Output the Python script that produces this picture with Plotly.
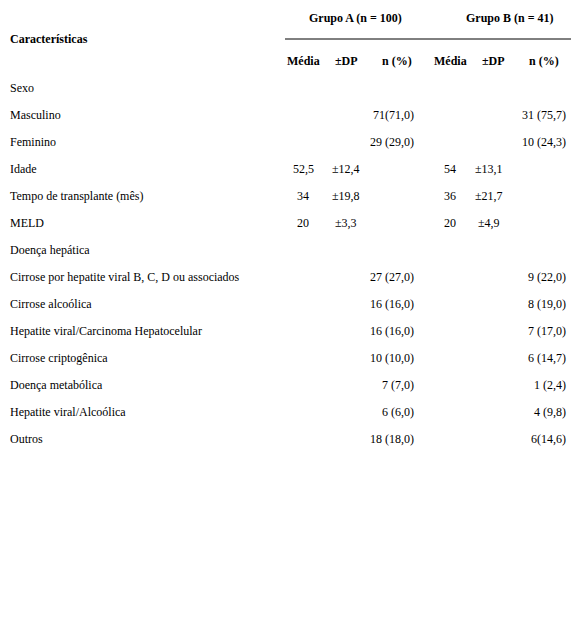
import plotly.graph_objects as go

rows = ["Sexo", "Masculino", "Feminino", "Idade", "Tempo de transplante (mês)", "MELD",
        "Doença hepática", "Cirrose por hepatite viral B, C, D ou associados",
        "Cirrose alcoólica", "Hepatite viral/Carcinoma Hepatocelular",
        "Cirrose criptogênica", "Doença metabólica", "Hepatite viral/Alcoólica", "Outros"]
a_media = ["", "", "", "52,5", "34", "20", "", "", "", "", "", "", "", ""]
a_dp = ["", "", "", "±12,4", "±19,8", "±3,3", "", "", "", "", "", "", "", ""]
a_n = ["", "71(71,0)", "29 (29,0)", "", "", "", "", "27 (27,0)", "16 (16,0)", "16 (16,0)",
       "10 (10,0)", "7 (7,0)", "6 (6,0)", "18 (18,0)"]
b_media = ["", "", "", "54", "36", "20", "", "", "", "", "", "", "", ""]
b_dp = ["", "", "", "±13,1", "±21,7", "±4,9", "", "", "", "", "", "", "", ""]
b_n = ["", "31 (75,7)", "10 (24,3)", "", "", "", "", "9 (22,0)", "8 (19,0)", "7 (17,0)",
       "6 (14,7)", "1 (2,4)", "4 (9,8)", "6(14,6)"]
groups = ["Grupo A (n = 100)", "Grupo B (n = 41)"]
subheads = ["Média", "±DP", "n (%)"]

FONT = "Liberation Serif"
fig = go.Figure()
anns = []

def txt(x, y, s, anchor="center", bold=False):
    anns.append(dict(x=x, y=y, xref="x", yref="y", text=f"<b>{s}</b>" if bold else s,
                     showarrow=False, xanchor=anchor, yanchor="middle",
                     font=dict(family=FONT, size=12, color="black")))

txt(8, 39, "Características", "left", True)
txt(355, 18, groups[0], bold=True)
txt(510, 18, groups[1], bold=True)
for xs in ([303, 346, 397], [450, 493, 544]):
    for x, s in zip(xs, subheads):
        txt(x, 61, s, bold=True)

for i, r in enumerate(rows):
    y = 88 + 27 * i
    txt(8, y, r, "left")
    txt(303, y, a_media[i])
    txt(346, y, a_dp[i])
    txt(416, y, a_n[i], "right")
    txt(450, y, b_media[i])
    txt(489, y, b_dp[i])
    txt(568, y, b_n[i], "right")

fig.add_shape(type="line", x0=285, x1=571, y0=39, y1=39, xref="x", yref="y",
              line=dict(color="black", width=1))
# page has an 8px body margin, so shift the axis ranges by it
fig.update_layout(annotations=anns, width=571, height=619, margin=dict(l=0, r=0, t=0, b=0),
                  plot_bgcolor="white", paper_bgcolor="white", showlegend=False,
                  xaxis=dict(range=[8, 579], visible=False),
                  yaxis=dict(range=[627, 8], visible=False))
fig.write_html("out.html")
